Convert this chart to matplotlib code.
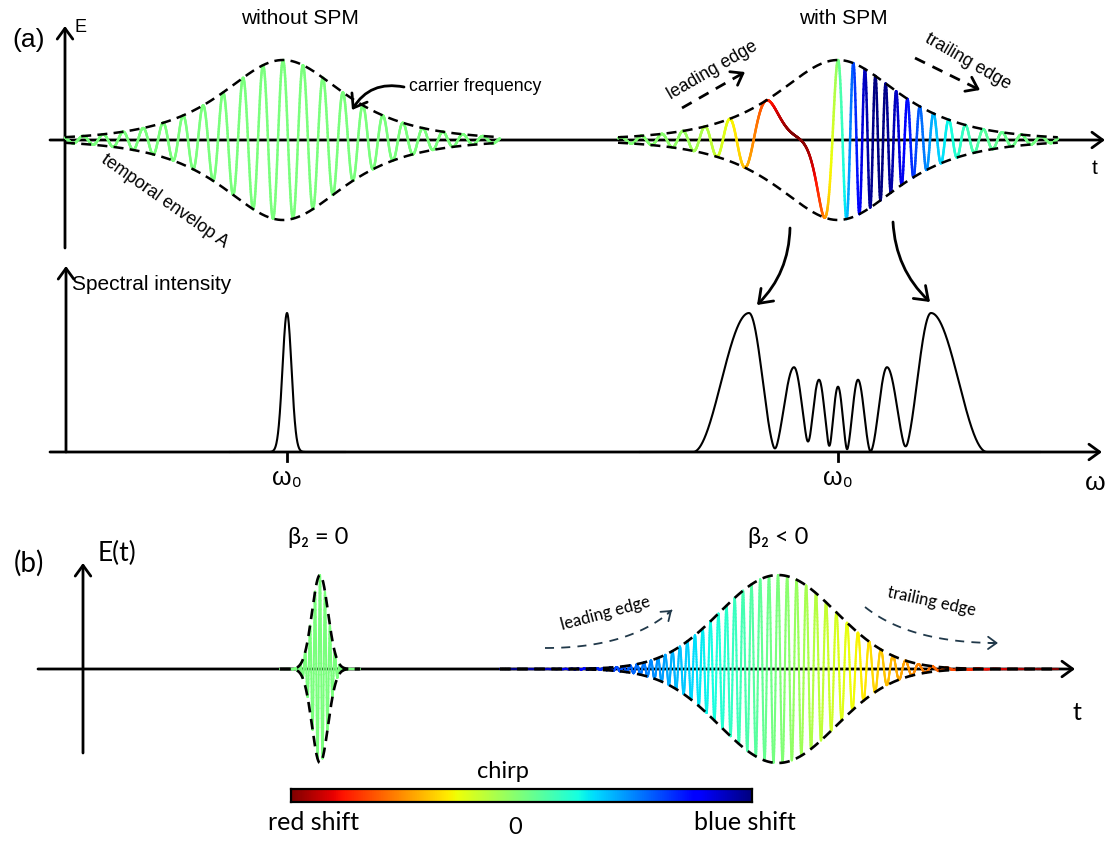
import numpy as np
import matplotlib
matplotlib.use("Agg")
import matplotlib.pyplot as plt
from matplotlib.collections import LineCollection

W, H, DPI = 1107, 841, 100

# ------------------------------------------------------------------ data
# panel (a), time domain: [without SPM, with SPM]
a_centers = [283, 838]          # pulse centre (time, px units)
a_width = [54, 54]              # sech envelope half-width
a_carrier = [0.05, 0.05]        # carrier frequency (cycles / unit)
a_spm_excursion = [0.0, 0.048]  # peak SPM frequency excursion
a_spm_width = [62, 62]          # width of the SPM chirp profile
a_spans = [(65, 500), (618, 1058)]

# panel (a), spectra
spec_free_center = [287]
spec_free_height = [1.0]
spec_free_sigma = [4.5]
spec_spm_centers = [749, 794, 819, 838, 858, 887, 931]
spec_spm_heights = [1.0, 0.61, 0.52, 0.47, 0.52, 0.61, 1.0]
spec_spm_halfw_left = [56, 21, 13, 10, 12, 17, 28]
spec_spm_halfw_right = [28, 17, 12, 10, 13, 21, 56]
omega0_ticks = [287, 838]

# panel (b), time domain: [beta2 = 0, beta2 < 0]
b_centers = [320, 778]
b_sigma = [8, 58]
b_carrier = [0.2, 0.11]
b_chirp_rate = [0.0, -0.00025]
b_spans = [(280, 360), (500, 1058)]

cmap = plt.get_cmap("jet_r")

# ------------------------------------------------------------------ figure
fig = plt.figure(figsize=(W / DPI, H / DPI), dpi=DPI)


def band(top, bot, zero, unit):
    ax = fig.add_axes([0, 1 - bot / H, 1, (bot - top) / H])
    ax.set_xlim(0, W)
    ax.set_ylim((zero - bot) / unit, (zero - top) / unit)
    ax.axis("off")
    return ax


ax_a = band(0, 255, 140, 80)
ax_s = band(255, 500, 452, 139)
ax_b = band(500, 841, 669, 94)
ov = fig.add_axes([0, 0, 1, 1])
ov.set_xlim(0, W)
ov.set_ylim(H, 0)
ov.axis("off")
ov.patch.set_visible(False)

AX_LW = 2.0


def axis_arrow(ax, p0, p1, lw=AX_LW, ms=14):
    ax.annotate("", xy=p1, xytext=p0,
                arrowprops=dict(arrowstyle="->,head_length=0.55,head_width=0.4",
                                lw=lw, color="k", shrinkA=0, shrinkB=0,
                                mutation_scale=ms),
                annotation_clip=False, zorder=1)


def colored_wave(ax, x, y, f, f0, dnorm, lw, z=2):
    pts = np.column_stack([x, y])
    segs = np.stack([pts[:-1], pts[1:]], axis=1)
    fm = 0.5 * (f[:-1] + f[1:])
    p = np.clip(0.5 + (fm - f0) / (2 * dnorm), 0, 1)
    lc = LineCollection(segs, colors=cmap(p), linewidths=lw, capstyle="round",
                        zorder=z)
    ax.add_collection(lc)


def envelope(ax, x, A, lw=1.8, z=3):
    for s in (1, -1):
        ax.plot(x, s * A, color="k", lw=lw, dashes=(4, 2.5), zorder=z)


# ---------------- panel (a) top
axis_arrow(ax_a, (50, 0), (1105, 0))
axis_arrow(ax_a, (65, (140 - 248) / 80), (65, (140 - 26) / 80))

for c, T, f0, D, Tc, (x0, x1) in zip(a_centers, a_width, a_carrier, a_spm_excursion,
                                     a_spm_width, a_spans):
    dx = 0.2
    x = np.arange(x0, x1, dx)
    A = 1 / np.cosh((x - c) / T)
    uc = (x - c) / Tc
    h = np.tanh(uc) / np.cosh(uc) ** 2 / 0.3849
    f = f0 + D * h
    ph = np.cumsum(f) * dx
    ph -= np.interp(c, x, ph)
    y = A * np.cos(2 * np.pi * ph)
    colored_wave(ax_a, x, y, f, f0, D if D > 0 else 0.048, 1.8)
    envelope(ax_a, x, A)

# ---------------- spectra
axis_arrow(ax_s, (50, 0), (1102, 0))
axis_arrow(ax_s, (66, 0), (66, (452 - 266) / 139))

xs = np.arange(230, 345, 0.2)
ys = np.zeros_like(xs)
for c, hgt, s in zip(spec_free_center, spec_free_height, spec_free_sigma):
    ys += hgt * np.exp(-(xs - c) ** 2 / (2 * s ** 2))
ax_s.plot(xs, ys, color="k", lw=1.5, zorder=3)

xs = np.arange(640, 1040, 0.2)
ys = np.zeros_like(xs)
for c, hgt, wl, wr in zip(spec_spm_centers, spec_spm_heights,
                          spec_spm_halfw_left, spec_spm_halfw_right):
    w = np.where(xs < c, wl, wr)
    r = np.abs(xs - c) / w
    ys += np.where(r < 1, hgt * np.cos(0.5 * np.pi * r) ** 2, 0.0)
ax_s.plot(xs, ys, color="k", lw=1.5, zorder=3)

for xt in omega0_ticks:
    ax_s.plot([xt, xt], [0, -9 / 139], color="k", lw=2, zorder=3)

# ---------------- panel (b)
axis_arrow(ax_b, (38, 0), (1075, 0))
axis_arrow(ax_b, (83, (669 - 753) / 94), (83, (669 - 563) / 94))

for c, s, f0, k, (x0, x1) in zip(b_centers, b_sigma, b_carrier, b_chirp_rate, b_spans):
    dx = 0.1
    x = np.arange(x0, x1, dx)
    A = np.exp(-(x - c) ** 2 / (2 * s ** 2))
    f = f0 + k * (x - c)
    ph = np.cumsum(f) * dx
    ph -= np.interp(c, x, ph)
    y = A * np.cos(2 * np.pi * ph)
    colored_wave(ax_b, x, y, f, f0, 0.066, 1.5)
    envelope(ax_b, x, A, lw=1.9)

# ---------------- colorbar
cax = fig.add_axes([291 / W, 1 - 802 / H, (752 - 291) / W, 13 / H])
grad = np.linspace(0, 1, 512)[None, :]
cax.imshow(grad, aspect="auto", cmap=cmap, extent=[0, 1, 0, 1])
cax.set_xticks([])
cax.set_yticks([])
for sp in cax.spines.values():
    sp.set_linewidth(1.6)

# ---------------- texts (overlay, pixel coords)
FA = ["Liberation Sans", "DejaVu Sans"]
FB = ["Lato", "DejaVu Sans"]


def T(x, y, s, size, fam=FA, rot=0, ha="center", va="center", color="k"):
    ov.text(x, y, s, fontsize=size, family=fam, rotation=rot, ha=ha, va=va,
            color=color, rotation_mode="anchor")


T(29, 40, "(a)", 19)
T(81, 27, "E", 13)
T(300, 18, "without SPM", 15)
T(843, 18, "with SPM", 15)
T(475, 86, "carrier frequency", 12.7)
T(165, 201, "temporal envelop A", 12.7, rot=-35)
T(1095, 168, "t", 15)
T(712, 70, "leading edge", 12.7, rot=30)
T(968, 62, "trailing edge", 12.7, rot=-30)
T(72, 284, "Spectral intensity", 15, ha="left")
for xt in omega0_ticks:
    T(xt, 478, "ω₀", 18)
T(1095, 483, "ω", 19)

T(29, 563, "(b)", 20, fam=FB)
T(117, 553, "E(t)", 19, fam=FB)
T(318, 537, "β₂ = 0", 17, fam=FB)
T(778, 537, "β₂ < 0", 17, fam=FB)
T(605, 613, "leading edge", 12, fam=FB, rot=15)
T(932, 602, "trailing edge", 12, fam=FB, rot=-12)
T(1077, 712, "t", 18, fam=FB)
T(503, 772, "chirp", 17, fam=FB)
T(314, 822, "red shift", 18, fam=FB)
T(515, 828, "0", 17, fam=FB)
T(745, 822, "blue shift", 18, fam=FB)

# ---------------- annotation arrows
def arrow(p0, p1, rad=0.0, lw=2.0, ms=16, color="k"):
    ov.annotate("", xy=p1, xytext=p0,
                arrowprops=dict(arrowstyle="->,head_length=0.55,head_width=0.4",
                                lw=lw, color=color, shrinkA=0, shrinkB=0,
                                mutation_scale=ms,
                                connectionstyle=f"arc3,rad={rad}"),
                annotation_clip=False)


arrow((404, 87), (352, 110), rad=0.35)
arrow((790, 228), (757, 305), rad=-0.2)
arrow((893, 222), (930, 302), rad=0.2)


def dashed_arrow(p0, p1, ctrl=None, color="k", lw=2.0, dashes=(4, 3), ms=14):
    t = np.linspace(0, 1, 60)[:, None]
    P0, P2 = np.array(p0, float), np.array(p1, float)
    P1 = 0.5 * (P0 + P2) if ctrl is None else np.array(ctrl, float)
    pts = (1 - t) ** 2 * P0 + 2 * (1 - t) * t * P1 + t ** 2 * P2
    ov.plot(pts[:, 0], pts[:, 1], color=color, lw=lw, dashes=dashes)
    ov.annotate("", xy=pts[-1], xytext=pts[-4],
                arrowprops=dict(arrowstyle="->,head_length=0.55,head_width=0.4",
                                lw=lw, color=color, shrinkA=0, shrinkB=0,
                                mutation_scale=ms),
                annotation_clip=False)


dashed_arrow((682, 108), (745, 72))
dashed_arrow((915, 58), (980, 90))
dashed_arrow((545, 648), (672, 610), ctrl=(630, 648), color="#21394a", lw=1.3,
             dashes=(5, 4), ms=11)
dashed_arrow((865, 607), (998, 643), ctrl=(910, 643), color="#21394a", lw=1.3,
             dashes=(5, 4), ms=11)

fig.savefig("out.png", dpi=DPI)
